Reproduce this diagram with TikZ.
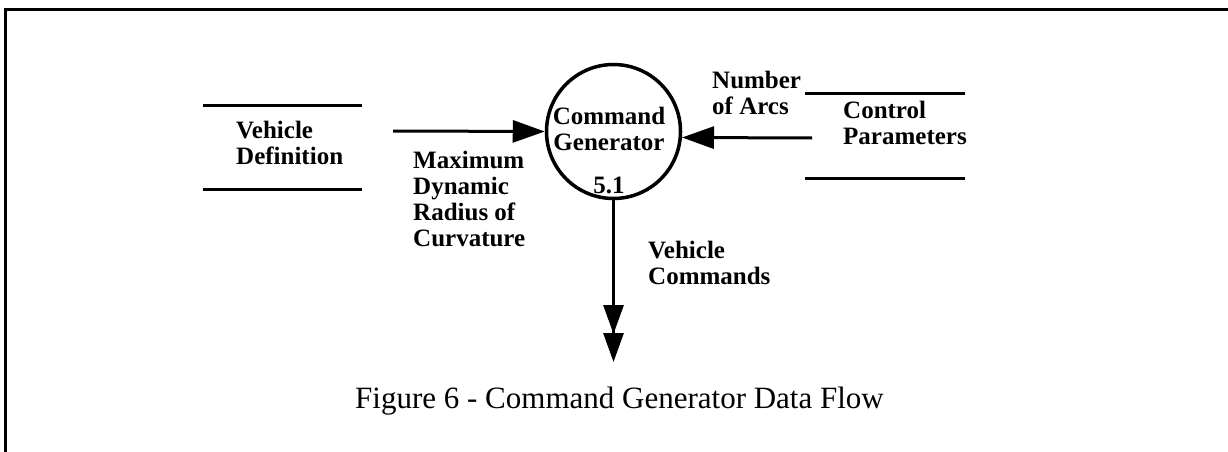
\documentclass[tikz,border=0pt]{standalone}
\usepackage{fontspec}
\setmainfont{Liberation Serif}
\usetikzlibrary{arrows.meta}
\begin{document}
\begin{tikzpicture}[x=1pt,y=-1pt,
  lbl/.style={font=\bfseries\fontsize{25}{26}\selectfont, align=left, inner sep=0pt, anchor=north west},
  ctr/.style={font=\bfseries\fontsize{25}{26}\selectfont, align=center, inner sep=0pt},
  storeline/.style={line width=3pt},
  flow/.style={line width=3pt, -{Triangle[length=32pt,width=22pt]}},
  flowtip/.style={line width=3pt, -{Triangle[length=29pt,width=20pt]}},
  proc/.style={circle, draw, line width=3.5pt, minimum size=134pt, inner sep=0pt}]
\useasboundingbox (0,0) rectangle (1228,452);
% frame
\draw[line width=3pt] (5,452) -- (5,10) -- (1228,10);
% data stores
\draw[storeline] (203,105) -- (362,105) (203,189) -- (362,189);
\node[lbl] (vd) at (236,121) {Vehicle\\Definition};
\draw[storeline] (805,93) -- (965,93) (805,178) -- (965,178);
\node[lbl] (cp) at (843,101) {Control\\Parameters};
% process
\node[proc] (cg) at (613.5,131.5) {};
\node[ctr, anchor=north] (cgt) at (609,107) {Command\\Generator};
\node[ctr, anchor=base] (cgn) at (609,193) {5.1};
% flows
\coordinate (vdout) at (393,131);
\draw[flow] (vdout) -- (cg.west);
\coordinate (cpout) at (812,138);
\draw[flow] (cpout) -- (cg.-5.6);
\coordinate (vcmid) at (613.5,334);
\coordinate (vcend) at (613.5,362);
\draw[flowtip] (cg.south) -- (vcmid);
\draw[flowtip] (cg.south) -- (vcend);
% flow labels
\node[lbl] (mdrc) at (413,151) {Maximum\\Dynamic\\Radius of\\Curvature};
\node[lbl] (noa) at (712,71) {Number\\of Arcs};
\node[lbl] (vc) at (648,241) {Vehicle\\Commands};
% caption
\node[font=\fontsize{31}{31}\selectfont, inner sep=0pt, anchor=base west] (cap) at (355,408) {Figure 6 - Command Generator Data Flow};
\end{tikzpicture}
\end{document}
